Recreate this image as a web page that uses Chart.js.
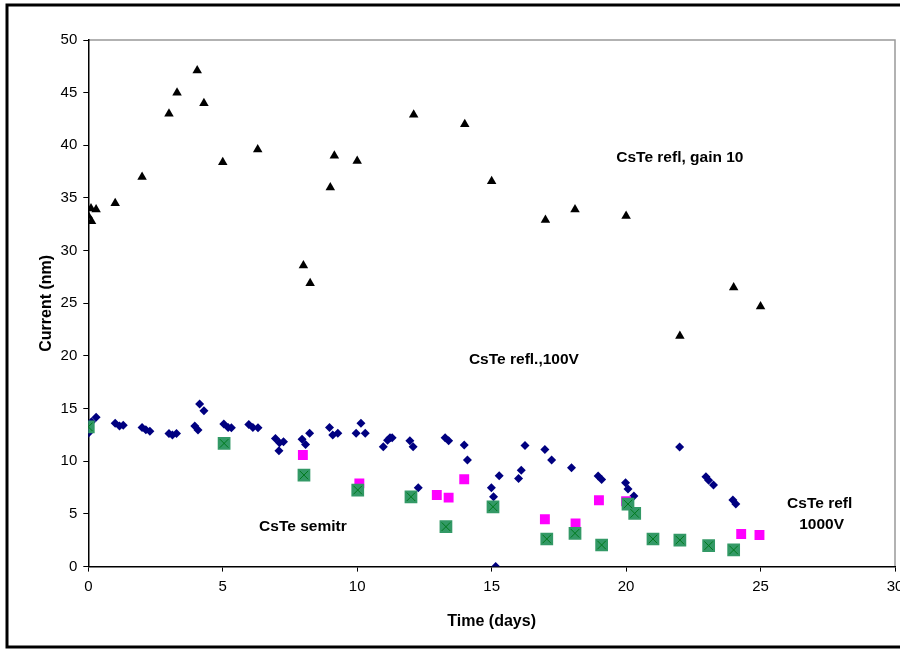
<!DOCTYPE html>
<html>
<head>
<meta charset="utf-8">
<script src="https://cdn.jsdelivr.net/npm/chart.js@4"></script>
<style>
  html, body { margin: 0; padding: 0; background: #fff; }
  #wrap { width: 900px; height: 650px; position: relative; }
</style>
</head>
<body>
<div id="wrap"><canvas id="chart" width="900" height="650"></canvas></div>
<script>
// CsTe refl, gain 10 (triangles)
const gainX = [0, 0.1, 0.12, 0.29, 1.0, 2.0, 3.0, 3.3, 4.05, 4.3, 5.0, 6.3, 8.0, 8.25, 9.0, 9.15, 10.0, 12.1, 14.0, 15.0, 17.0, 18.1, 20.0, 22.0, 24.0, 25.0];
const gainY = [33.3, 34.0, 32.8, 33.9, 34.5, 37.0, 43.0, 45.0, 47.1, 44.0, 38.4, 39.6, 28.6, 26.9, 36.0, 39.0, 38.5, 42.9, 42.0, 36.6, 32.9, 33.9, 33.3, 21.9, 26.5, 24.7];

// CsTe refl., 100V (diamonds)
const v100X = [0, 0.12, 0.29, 1.0, 1.16, 1.3, 2.0, 2.14, 2.29, 3.0, 3.13, 3.28, 3.96, 4.08, 4.14, 4.3, 5.04, 5.2, 5.32, 5.97, 6.12, 6.31, 6.96, 7.11, 7.26, 7.09, 7.95, 8.08, 8.23, 8.97, 9.09, 9.28, 9.96, 10.14, 10.3, 10.97, 11.13, 11.22, 11.3, 11.96, 12.08, 12.27, 13.27, 13.4, 13.98, 14.1, 14.99, 15.07, 15.15, 15.28, 16.0, 16.1, 16.24, 16.98, 17.23, 17.97, 18.96, 19.09, 19.98, 20.07, 20.29, 21.99, 22.97, 23.07, 23.25, 23.97, 24.08];
const v100Y = [12.65, 13.75, 14.17, 13.6, 13.34, 13.43, 13.2, 13.0, 12.86, 12.64, 12.5, 12.64, 13.34, 12.96, 15.43, 14.8, 13.53, 13.2, 13.18, 13.5, 13.2, 13.18, 12.17, 11.76, 11.85, 11.0, 12.08, 11.6, 12.65, 13.2, 12.49, 12.65, 12.65, 13.6, 12.65, 11.38, 12.0, 12.23, 12.23, 11.95, 11.38, 7.49, 12.23, 11.95, 11.54, 10.11, 7.49, 6.63, 0, 8.63, 8.37, 9.16, 11.5, 11.13, 10.11, 9.39, 8.6, 8.28, 7.96, 7.36, 6.7, 11.35, 8.53, 8.2, 7.74, 6.32, 5.94];

// CsTe refl 1000V (magenta squares)
const v1000X = [7.98, 10.08, 12.96, 13.4, 13.98, 16.98, 18.12, 18.99, 20.0, 24.28, 24.96];
const v1000Y = [10.6, 7.9, 6.8, 6.55, 8.3, 4.5, 4.1, 6.3, 6.2, 3.1, 3.0];

// CsTe semitr (green squares with x)
const semiX = [0, 5.05, 8.02, 10.02, 12.0, 13.3, 15.05, 17.05, 18.1, 19.09, 20.07, 20.32, 21.0, 22.0, 23.07, 24.0];
const semiY = [13.27, 11.7, 8.69, 7.27, 6.63, 3.79, 5.68, 2.62, 3.16, 2.05, 5.94, 5.05, 2.62, 2.52, 1.99, 1.58];

const xTicks = [0, 5, 10, 15, 20, 25, 30];
const yTicks = [0, 5, 10, 15, 20, 25, 30, 35, 40, 45, 50];

// text labels inside the plot (data coordinates)
const notes = [
    { text: 'CsTe refl, gain 10', x: 22.0, y: 38.85 },
    { text: 'CsTe refl.,100V', x: 16.2, y: 19.6 },
    { text: 'CsTe semitr', x: 7.98, y: 3.8 },
    { text: 'CsTe refl', x: 27.2, y: 5.94 },
    { text: '1000V', x: 27.27, y: 3.95 }
];

function pts(xs, ys) {
    return xs.map(function (x, i) { return { x: x, y: ys[i] }; });
}

const FONT = "'Liberation Sans', Arial, sans-serif";

// plot frame, outer border and notes
const decor = {
    id: 'decor',
    beforeDraw(chart) {
        const ctx = chart.ctx;
        ctx.save();
        ctx.fillStyle = '#fff';
        ctx.fillRect(0, 0, chart.width, chart.height);
        ctx.strokeStyle = '#000';
        ctx.lineWidth = 3;
        ctx.strokeRect(7, 5, 920, 642);
        const a = chart.chartArea;
        ctx.strokeStyle = '#999';
        ctx.lineWidth = 1.5;
        ctx.beginPath();
        ctx.moveTo(a.left, a.top);
        ctx.lineTo(a.right, a.top);
        ctx.lineTo(a.right, a.bottom);
        ctx.stroke();
        ctx.restore();
    },
    afterDatasetsDraw(chart) {
        const ctx = chart.ctx;
        const xs = chart.scales.x, ys = chart.scales.y;
        ctx.save();
        ctx.fillStyle = '#000';
        ctx.font = 'bold 15.5px ' + FONT;
        ctx.textAlign = 'center';
        ctx.textBaseline = 'middle';
        notes.forEach(function (n) {
            ctx.fillText(n.text, xs.getPixelForValue(n.x), ys.getPixelForValue(n.y));
        });
        ctx.restore();
    }
};

new Chart(document.getElementById('chart'), {
    type: 'scatter',
    data: {
        datasets: [
            {
                label: 'semitr x',
                data: pts(semiX, semiY),
                pointStyle: 'crossRot',
                pointRadius: 6,
                borderColor: '#007a1c',
                borderWidth: 1,
                backgroundColor: 'transparent'
            },
            {
                label: 'CsTe semitr',
                data: pts(semiX, semiY),
                pointStyle: 'rect',
                pointRadius: 9,
                backgroundColor: '#339966',
                borderColor: '#339966',
                borderWidth: 0
            },
            {
                label: 'CsTe refl 1000V',
                data: pts(v1000X, v1000Y),
                pointStyle: 'rect',
                pointRadius: 7,
                backgroundColor: '#ff00ff',
                borderColor: '#ff00ff',
                borderWidth: 0
            },
            {
                label: 'CsTe refl.,100V',
                data: pts(v100X, v100Y),
                pointStyle: 'rectRot',
                pointRadius: 4.5,
                backgroundColor: '#000080',
                borderColor: '#000080',
                borderWidth: 0
            },
            {
                label: 'CsTe refl, gain 10',
                data: pts(gainX, gainY),
                pointStyle: 'triangle',
                pointRadius: 5.5,
                backgroundColor: '#000',
                borderColor: '#000',
                borderWidth: 0
            }
        ]
    },
    options: {
        responsive: false,
        animation: false,
        layout: { autoPadding: false, padding: { left: 0, top: 40, right: 5, bottom: 0 } },
        plugins: {
            legend: { display: false },
            tooltip: { enabled: false }
        },
        scales: {
            x: {
                type: 'linear',
                min: 0,
                max: 30,
                afterBuildTicks: function (s) { s.ticks = xTicks.map(function (v) { return { value: v }; }); },
                afterFit: function (s) { s.height = 83.4; s.paddingLeft = 0; s.paddingRight = 0; },
                grid: { display: true, drawOnChartArea: false, drawTicks: true, tickLength: 5, color: '#000', tickColor: '#000' },
                border: { display: true, color: '#000', width: 1.5 },
                ticks: { color: '#000', padding: 6, maxRotation: 0, autoSkip: false, font: { family: FONT, size: 15 } },
                title: { display: true, text: 'Time (days)', color: '#000', padding: { top: 0, bottom: 18.5 }, font: { family: FONT, size: 16, weight: 'bold' } }
            },
            y: {
                type: 'linear',
                min: 0,
                max: 50,
                afterBuildTicks: function (s) { s.ticks = yTicks.map(function (v) { return { value: v }; }); },
                afterFit: function (s) { s.width = 88.3; s.paddingTop = 0; s.paddingBottom = 0; },
                grid: { display: true, drawOnChartArea: false, drawTicks: true, tickLength: 5, color: '#000', tickColor: '#000' },
                border: { display: true, color: '#000', width: 1.5 },
                ticks: { color: '#000', padding: 6, autoSkip: false, font: { family: FONT, size: 15 } },
                title: { display: true, text: 'Current (nm)', color: '#000', padding: { top: 37, bottom: 0 }, font: { family: FONT, size: 16, weight: 'bold' } }
            }
        }
    },
    plugins: [decor]
});
</script>
</body>
</html>
